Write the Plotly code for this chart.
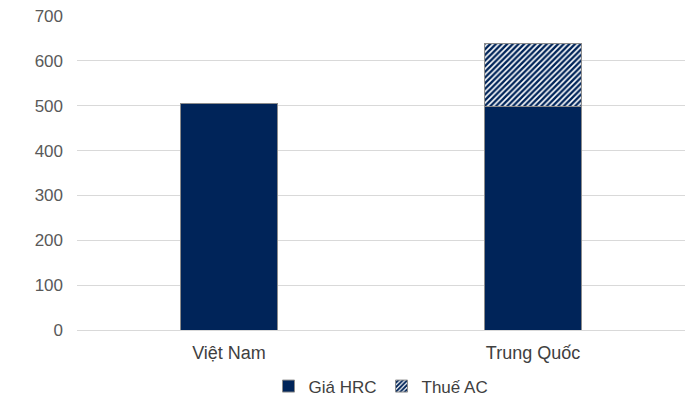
import plotly.graph_objects as go

categories = ["Việt Nam", "Trung Quốc"]
gia_hrc = [505, 498]
thue_ac = [0, 140]
y_ticks = [0, 100, 200, 300, 400, 500, 600, 700]

navy = "#002459"
fig = go.Figure()
fig.add_bar(x=categories, y=gia_hrc, name="Giá HRC",
            marker=dict(color=navy, line=dict(color="#8c8c8c", width=1)))
fig.add_bar(x=categories, y=thue_ac, name="Thuế AC",
            marker=dict(color="white", line=dict(color="#8c8c8c", width=1),
                        pattern=dict(shape="/", fgcolor=navy, bgcolor="white",
                                     fgopacity=1, size=4, solidity=0.6)))
fig.update_layout(
    barmode="stack", bargap=0.684,
    width=698, height=400,
    margin=dict(l=77, r=13, t=16, b=70, autoexpand=False),
    plot_bgcolor="white", paper_bgcolor="white",
    font=dict(family="Liberation Sans, Arial", size=17, color="#595959"),
    legend=dict(orientation="h", x=0.5, xanchor="center", y=-0.18, yanchor="middle",
                font=dict(size=17, color="#404040"), itemwidth=30, traceorder="normal",
                entrywidth=0),
    showlegend=True,
)
fig.update_yaxes(range=[0, 700], tickvals=y_ticks, showgrid=True, gridcolor="#d9d9d9",
                 gridwidth=1, zeroline=False, showline=False, ticks="", ticklen=0,
                 ticklabelstandoff=13,
                 tickfont=dict(size=17, color="#595959"))
fig.update_xaxes(showline=True, linecolor="#d9d9d9", linewidth=1, ticks="",
                 ticklabelstandoff=6,
                 tickfont=dict(size=18, color="#404040"))
fig.write_html("out.html")
